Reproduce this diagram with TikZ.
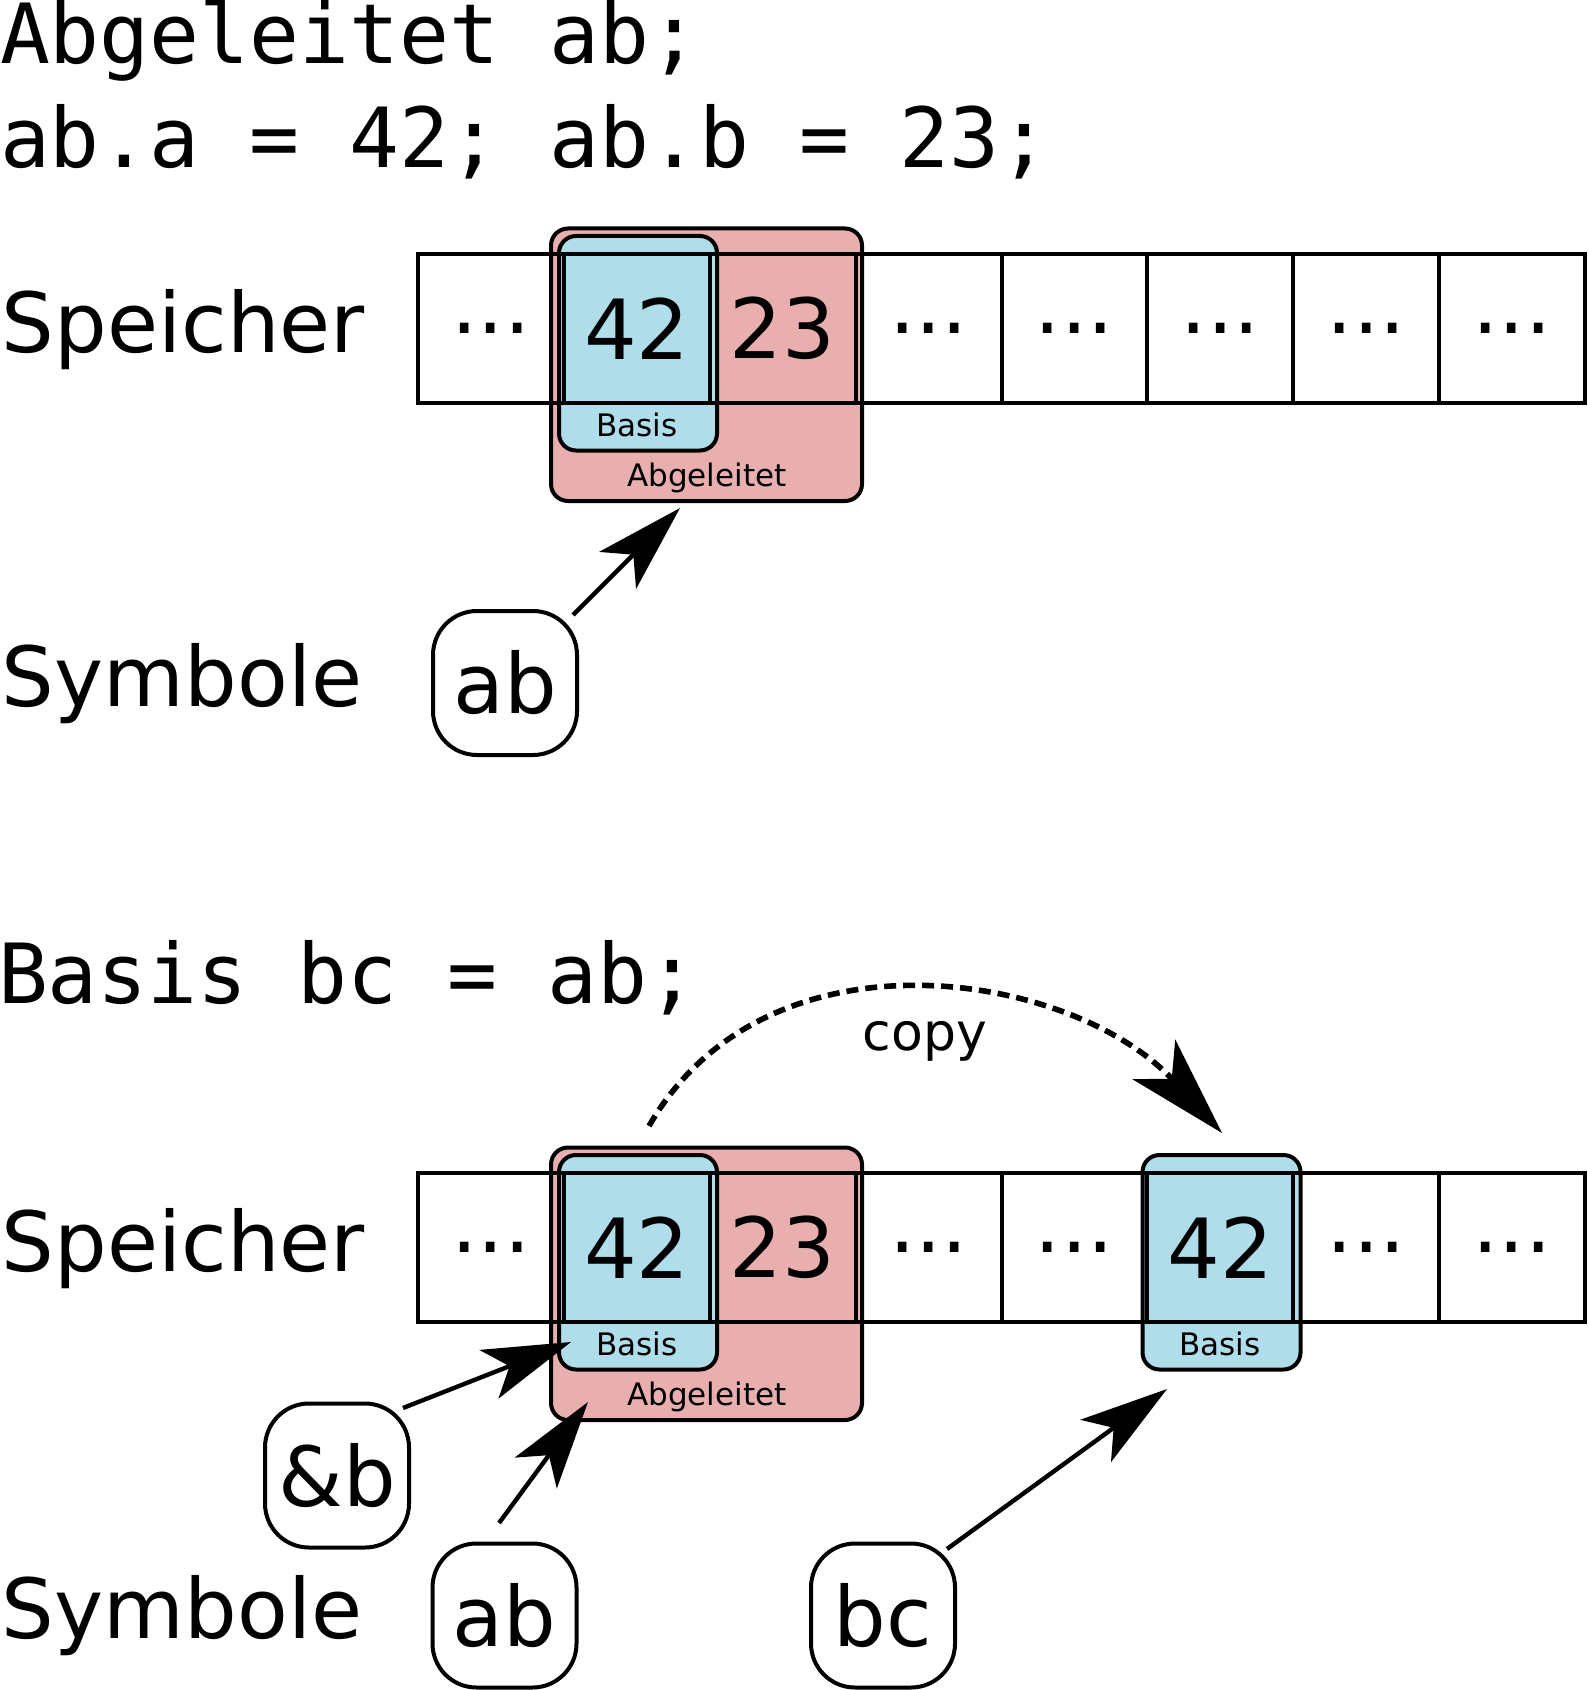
\documentclass[tikz,border=0pt]{standalone}
\usepackage{fontspec}
\setmainfont{DejaVu Sans}
\newfontfamily\monofont{DejaVu Sans Mono}
\usetikzlibrary{arrows.meta}
\definecolor{basisblue}{HTML}{AFDDE9}
\definecolor{abgpink}{HTML}{E9AFAF}
\begin{document}
\begin{tikzpicture}[x=0.5pt,y=-0.5pt,line width=2pt,
  code/.style={font=\monofont\fontsize{41.5}{50}\selectfont,inner sep=0pt,anchor=base west},
  lbl/.style={font=\fontsize{41.5}{50}\selectfont,inner sep=0pt,anchor=base west},
  small/.style={font=\fontsize{15.5}{18}\selectfont,inner sep=0pt,anchor=base},
  copytext/.style={font=\fontsize{26}{30}\selectfont,inner sep=0pt,anchor=base},
  cell/.style={draw,minimum width=72.9375pt,minimum height=74.35pt,inner sep=0pt,font=\fontsize{41.5}{50}\selectfont},
  bluebox/.style={draw,fill=basisblue,rounded corners=8.5pt,minimum width=79pt,minimum height=107.25pt,inner sep=0pt},
  pinkbox/.style={draw,fill=abgpink,rounded corners=8.5pt,minimum width=155.5pt,minimum height=136.25pt,inner sep=0pt},
  sym/.style={draw,rounded corners=22pt,minimum size=72pt,inner sep=0pt,font=\fontsize{41.5}{50}\selectfont},
  arr/.style={-{Stealth[length=44pt,width=26pt,inset=11pt]},line width=2.2pt},
  copyarr/.style={-{Stealth[length=50pt,width=29pt,inset=13pt]},line width=2.8pt,dash pattern=on 6pt off 3.5pt}
]
\useasboundingbox (0,0) rectangle (1587,1690);

% code lines
\node[code] (c1) at (-2,64) {Abgeleitet ab;};
\node[code] (c2) at (-2,168) {ab.a = 42; ab.b = 23;};
\node[code] (c3) at (-4,1003) {Basis bc = ab;};

% row labels
\node[lbl] (sp1) at (0,352) {Speicher};
\node[lbl] (sy1) at (0,706) {Symbole};
\node[lbl] (sp2) at (0,1271) {Speicher};
\node[lbl] (sy2) at (0,1638) {Symbole};

% ---------- top memory ----------
\node[pinkbox] (pk1) at (706.5,364.75) {};
\node[bluebox] (bl1) at (638,343.25) {};
\foreach \i/\t in {1/{...},2/42,3/23,4/{...},5/{...},6/{...},7/{...},8/{...}}
  \node[cell] (m\i) at ({418+145.875*(\i-0.5)},328.4) {\t};
\node[small] (bt1) at (637,436) {Basis};
\node[small] (at1) at (707,486) {Abgeleitet};

\node[sym] (ab1) at (505,683) {ab};
\draw[arr] ([shift={(-6,6)}]ab1.north east) -- ([shift={(-26.5,5)}]pk1.south);

% ---------- bottom memory ----------
\node[pinkbox] (pk2) at (706.5,1283.75) {};
\node[bluebox] (bl2) at (638,1262.25) {};
\node[bluebox] (bl3) at (1221.5,1262.25) {};
\foreach \i/\t in {1/{...},2/42,3/23,4/{...},5/{...},6/42,7/{...},8/{...}}
  \node[cell] (n\i) at ({418+145.875*(\i-0.5)},1247.4) {\t};
\node[small] (bt2) at (637,1355) {Basis};
\node[small] (at2) at (707,1405) {Abgeleitet};
\node[small] (bt3) at (1220,1355) {Basis};

\node[sym] (amp) at (337,1475.5) {\&b};
\node[sym] (ab2) at (504.5,1615.5) {ab};
\node[sym] (bc) at (883,1615.5) {bc};

\draw[arr] ([shift={(-8,6.5)}]amp.north east) -- ([shift={(14,-29.5)}]bl2.south west);
\draw[arr] ([shift={(-5.5,-18.5)}]ab2.north) -- ([shift={(39,-20)}]pk2.south west);
\draw[arr] ([shift={(-10,7.5)}]bc.north east) -- ([shift={(-54.5,17.5)}]bl3.south);

\draw[copyarr] ([shift={(11,-27)}]bl2.north) .. controls +(118,-205) and +(-150,-162) .. ([shift={(0.5,-20)}]bl3.north);
\node[copytext] (cp) at (925,1050) {copy};
\end{tikzpicture}
\end{document}
